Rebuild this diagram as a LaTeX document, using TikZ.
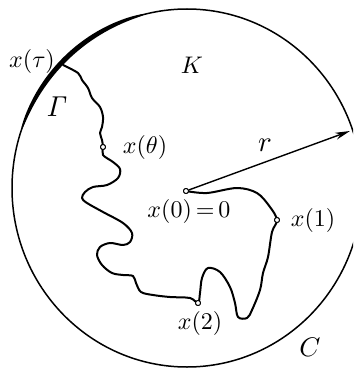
\documentclass[tikz,border=0pt]{standalone}
\usetikzlibrary{arrows.meta}
\begin{document}
\begin{tikzpicture}[x=1pt,y=-1pt,
  lbl/.style={inner sep=0pt,scale=2.4},
  dotpt/.style={circle,draw,fill=white,line width=0.9pt,inner sep=0pt,minimum size=5pt},
  walk/.style={line width=2pt,line join=round,line cap=round},
  bound/.style={line width=1.5pt}]
\useasboundingbox (0,0) rectangle (353,369);
\clip (0,0) rectangle (353,369);
% circle C
\draw[bound] (187,188) ellipse [x radius=175pt, y radius=179pt];
% thick arc Gamma
\fill plot[domain=104:161,samples=60,smooth]
  ({187+(175+2.8*pow(abs(sin((\x-104)/57*180)),0.4))*cos(\x)},{188-(179+2.8*pow(abs(sin((\x-104)/57*180)),0.4))*sin(\x)})
  -- plot[domain=161:104,samples=60,smooth]
  ({187+(175-2.2*pow(abs(sin((\x-104)/57*180)),0.4))*cos(\x)},{188-(179-2.2*pow(abs(sin((\x-104)/57*180)),0.4))*sin(\x)}) -- cycle;
% points
\coordinate (xt) at (63,65);
\node[dotpt] (xth) at (103,147) {};
\node[dotpt] (xz) at (186,191) {};
\node[dotpt] (xa) at (277,220) {};
\node[dotpt] (xb) at (198,303) {};
\coordinate (tip) at (350,131);
% path
\draw[walk] plot[smooth,tension=0.55] coordinates {
 (xt) (78,73) (82,80) (88,88) (92,98) (100,107) (103,117) (102,127) (100,133) (102,140) (xth)
 (103,155) (113,162) (120,169) (118,178) (107,185) (93,187) (85,192) (82,198) (87,203)
 (103,212) (123,223) (132,233) (130,242) (123,245) (110,243) (100,247) (97,255) (102,265)
 (112,273) (123,275) (133,276) (136,283) (141,292) (153,295) (170,297) (190,298) (xb)
 (200,293) (202,278) (208,268) (220,272) (230,287) (235,303) (238,317) (247,318) (252,310)
 (260,290) (263,273) (268,257) (272,232) (xa)
 (270,207) (257,193) (237,188) (207,193) (xz)};
% redraw points on top
\node[dotpt] at (xth) {};
\node[dotpt] at (xz) {};
\node[dotpt] at (xa) {};
\node[dotpt] at (xb) {};
% radius arrow
\draw[line width=1.4pt,-{Stealth[length=15pt,width=7pt]}] (xz) -- (tip);
% labels
\node[lbl] (ltau) at (32,61) {$x(\tau)$};
\node[lbl,scale=1.2] (lgam) at (57,107) {$\mathit{\Gamma}$};
\node[lbl] (lK) at (192,65) {$K$};
\node[lbl,scale=1.2] (lr) at (265,145) {$r$};
\node[lbl] (lth) at (145,147) {$x(\theta)$};
\node[lbl] (lz) at (189,211) {$x(0)\,{=}\,0$};
\node[lbl] (la) at (313,220) {$x(1)$};
\node[lbl] (lb) at (200,323) {$x(2)$};
\node[lbl,scale=1.12] (lC) at (310,347) {$C$};
\end{tikzpicture}
\end{document}
